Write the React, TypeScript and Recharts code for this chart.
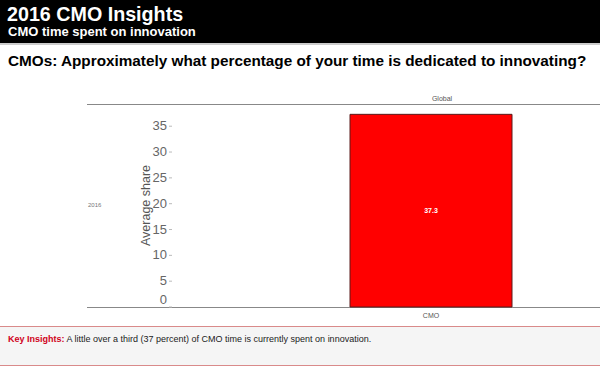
import { BarChart, Bar, XAxis, YAxis, LabelList } from 'recharts';

const roles = ['CMO'];
const shares = [37.3];
const yTicks = [0, 5, 10, 15, 20, 25, 30, 35];

const data = roles.map((r, i) => ({ role: r, share: shares[i] }));

const font = '"Liberation Sans", Arial, sans-serif';

// zero label sits above the axis line in the original
const YTick = (props: any) => {
  const { x, y, payload } = props;
  const dy = payload.value === 0 ? -3 : 4;
  return (
    <text x={x} y={y + dy} textAnchor="end" fontSize={13} fill="#666" fontFamily={font}>
      {payload.value}
    </text>
  );
};

const YLabel = (props: any) => {
  const { viewBox } = props;
  const cx = 150;
  const cy = viewBox.y + viewBox.height / 2;
  return (
    <text x={cx} y={cy} transform={`rotate(-90 ${cx} ${cy})`} textAnchor="middle" fontSize={12.5} fill="#555" fontFamily={font}>
      Average share
    </text>
  );
};

export default function App() {
  return (
    <div style={{ position: 'absolute', left: 0, top: 0, width: 600, height: 367, background: '#fff', fontFamily: font, overflow: 'hidden' }}>
      <div style={{ position: 'absolute', left: 0, top: 0, width: 600, height: 43, background: '#000' }} />
      <div style={{ position: 'absolute', left: 0, top: 43, width: 600, height: 2, background: '#ccc' }} />
      <div style={{ position: 'absolute', left: 7, top: 3, color: '#fff', fontWeight: 'bold', fontSize: 19.7 }}>2016 CMO Insights</div>
      <div style={{ position: 'absolute', left: 8, top: 24, color: '#fff', fontWeight: 'bold', fontSize: 13 }}>CMO time spent on innovation</div>
      <div style={{ position: 'absolute', left: 8, top: 52, color: '#000', fontWeight: 'bold', fontSize: 15.3 }}>
        CMOs: Approximately what percentage of your time is dedicated to innovating?
      </div>

      <div style={{ position: 'absolute', left: 87, top: 104, width: 513, height: 1, background: '#888' }} />
      <div style={{ position: 'absolute', left: 87, top: 307, width: 513, height: 1, background: '#888' }} />
      <div style={{ position: 'absolute', left: 412, top: 95, width: 60, textAlign: 'center', fontSize: 7, color: '#555' }}>Global</div>
      <div style={{ position: 'absolute', left: 88, top: 202, fontSize: 6, color: '#777' }}>2016</div>

      <div style={{ position: 'absolute', left: 0, top: 0 }}>
        <BarChart width={600} height={367} data={data} margin={{ top: 104, right: 0, bottom: 40, left: 92 }}>
          <YAxis
            width={80}
            domain={[0, 39.3]}
            ticks={yTicks}
            axisLine={false}
            tickSize={3}
            tickLine={{ stroke: '#bbb' }}
            tick={<YTick />}
            label={<YLabel />}
          />
          <XAxis
            dataKey="role"
            axisLine={false}
            tickLine={false}
            padding={{ left: 90, right: 0 }}
            tick={{ fontSize: 7, fill: '#555', fontFamily: font }}
            tickMargin={0}
            height={20}
          />
          <Bar dataKey="share" fill="#ff0000" stroke="#5a1a1a" strokeWidth={1} barSize={162} isAnimationActive={false}>
            <LabelList dataKey="share" position="center" fill="#fff" fontSize={7} fontWeight="bold" fontFamily={font} />
          </Bar>
        </BarChart>
      </div>

      <div style={{ position: 'absolute', left: 0, top: 326, width: 600, height: 38, background: '#f5f5f5', borderTop: '1px solid #d98a8a', borderBottom: '1px solid #d98a8a' }} />
      <div style={{ position: 'absolute', left: 8, top: 334, fontSize: 9, color: '#222' }}>
        <span style={{ color: '#d0021b', fontWeight: 'bold' }}>Key Insights:</span> A little over a third (37 percent) of CMO time is currently spent on innovation.
      </div>
    </div>
  );
}
